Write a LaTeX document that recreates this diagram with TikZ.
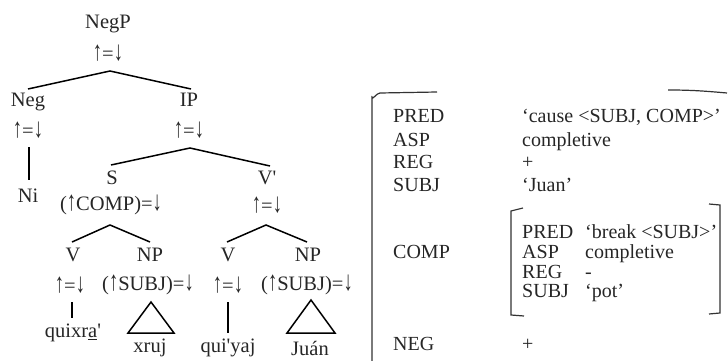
\documentclass[tikz,border=0pt]{standalone}
\usepackage{fontspec}
\usepackage{graphicx}
\setmainfont{Liberation Serif}
\newcommand{\uparr}{\scalebox{0.9}[1.35]{↑}}
\newcommand{\dnarr}{\scalebox{0.9}[1.35]{↓}}
\newcommand{\eqann}{\uparr=\dnarr}
\begin{document}
\begin{tikzpicture}[x=1pt,y=-1pt,
  tl/.style={inner sep=0pt, font=\fontsize{20.5}{22}\selectfont, text=black!85},
  av/.style={inner sep=0pt, anchor=west, text height=13pt, text depth=3pt, font=\fontsize{20}{22}\selectfont, text=black!85},
  br/.style={draw=black!80, line width=1.2pt},
  edge/.style={draw=black, line width=1.5pt},
  tri/.style={draw=black, line width=1.5pt, line join=miter}]
\useasboundingbox (0,0) rectangle (728,361);
% ---------- tree ----------
\node[tl] (negp) at (108,24) {NegP};
\node[tl] (negpa) at (108,53) {\eqann};
\node[tl] (neg) at (28,102) {Neg};
\node[tl] (nega) at (28,130) {\eqann};
\node[tl] (ip) at (189,100) {IP};
\node[tl] (ipa) at (189,130) {\eqann};
\node[tl] (ni) at (28,196) {Ni};
\node[tl] (s) at (112,178) {S};
\node[tl] (sa) at (111,205) {(\uparr COMP)=\dnarr};
\node[tl] (vb) at (267,178) {V\textquotesingle};
\node[tl] (vba) at (267,205) {\eqann};
\node[tl] (v1) at (73,255) {V};
\node[tl] (v1a) at (70,285) {\eqann};
\node[tl] (np1) at (150,255) {NP};
\node[tl] (np1a) at (148,285) {(\uparr SUBJ)=\dnarr};
\node[tl] (v2) at (228,255) {V};
\node[tl] (v2a) at (228,285) {\eqann};
\node[tl] (np2) at (308,255) {NP};
\node[tl] (np2a) at (307,285) {(\uparr SUBJ)=\dnarr};
\node[tl] (w1) at (73,333) {quixr\underline{a}\textquotesingle};
\node[tl] (w2) at (150,348) {xruj};
\node[tl] (w3) at (228,348) {qui\textquotesingle yaj};
\node[tl] (w4) at (310,348) {Juán};
% edge coordinates
\coordinate (negp-b) at (110,71);
\coordinate (neg-t) at (28,89);
\coordinate (ip-t) at (191,89);
\coordinate (neg-b) at (29,147);
\coordinate (ni-t) at (29,180);
\coordinate (ip-b) at (190,148);
\coordinate (s-t) at (111,165);
\coordinate (vb-t) at (270,166);
\coordinate (s-b) at (110,225);
\coordinate (v1-t) at (72,242);
\coordinate (np1-t) at (150,242);
\coordinate (vb-b) at (266,225);
\coordinate (v2-t) at (227,242);
\coordinate (np2-t) at (307,242);
\coordinate (v1-b) at (72,302);
\coordinate (w1-t) at (72,318);
\coordinate (v2-b) at (228,302);
\coordinate (w3-t) at (228,333);
\coordinate (t1a) at (151,302);
\coordinate (t1l) at (128,333);
\coordinate (t1r) at (174,333);
\coordinate (t2a) at (311,300);
\coordinate (t2l) at (287,333);
\coordinate (t2r) at (335,333);
\draw[edge] (neg-t) -- (negp-b) -- (ip-t);
\draw[edge] (neg-b) -- (ni-t);
\draw[edge] (s-t) -- (ip-b) -- (vb-t);
\draw[edge] (v1-t) -- (s-b) -- (np1-t);
\draw[edge] (v2-t) -- (vb-b) -- (np2-t);
\draw[edge] (v1-b) -- (w1-t);
\draw[edge] (v2-b) -- (w3-t);
\draw[tri] (t1a) -- (t1l) -- (t1r) -- cycle;
\draw[tri] (t2a) -- (t2l) -- (t2r) -- cycle;
% ---------- AVM ----------
\node[av] (pred) at (393,117) {PRED};
\node[av] (asp) at (393,141) {ASP};
\node[av] (reg) at (393,163) {REG};
\node[av] (subj) at (393,186) {SUBJ};
\node[av] (comp) at (393,253) {COMP};
\node[av] (negf) at (393,345) {NEG};
\node[av] (predv) at (522,117) {‘cause <SUBJ, COMP>’};
\node[av] (aspv) at (522,141) {completive};
\node[av] (regv) at (522,163) {+};
\node[av] (subjv) at (522,186) {‘Juan’};
\node[av] (negv) at (522,345) {+};
\node[av] (ipred) at (522,233) {PRED};
\node[av] (iasp) at (522,253) {ASP};
\node[av] (ireg) at (522,273) {REG};
\node[av] (isubj) at (522,292) {SUBJ};
\node[av] (ipredv) at (585,233) {‘break <SUBJ>’};
\node[av] (iaspv) at (585,253) {completive};
\node[av] (iregv) at (585,273) {-};
\node[av] (isubjv) at (585,292) {‘pot’};
% brackets
\coordinate (ob-lt) at (372,97);
\coordinate (ob-ltc) at (380,93);
\coordinate (ob-lte) at (437,92);
\coordinate (ob-lb) at (372,361);
\coordinate (ob-rt) at (668,90);
\coordinate (ob-rte) at (727,93);
\draw[br] (ob-lb) -- (ob-lt) to[out=-80,in=180] (ob-ltc) -- (ob-lte);
\draw[br] (ob-rt) to[out=0,in=175] (ob-rte);
\coordinate (ib-lt) at (511,211);
\coordinate (ib-lte) at (523,208);
\coordinate (ib-lb) at (511,315);
\coordinate (ib-lbe) at (524,316);
\coordinate (ib-rt) at (720,205);
\coordinate (ib-rte) at (709,204);
\coordinate (ib-rb) at (720,313);
\coordinate (ib-rbe) at (709,314);
\draw[br] (ib-lte) -- (ib-lt) -- (ib-lb) -- (ib-lbe);
\draw[br] (ib-rte) -- (ib-rt) -- (ib-rb) -- (ib-rbe);
\end{tikzpicture}
\end{document}
